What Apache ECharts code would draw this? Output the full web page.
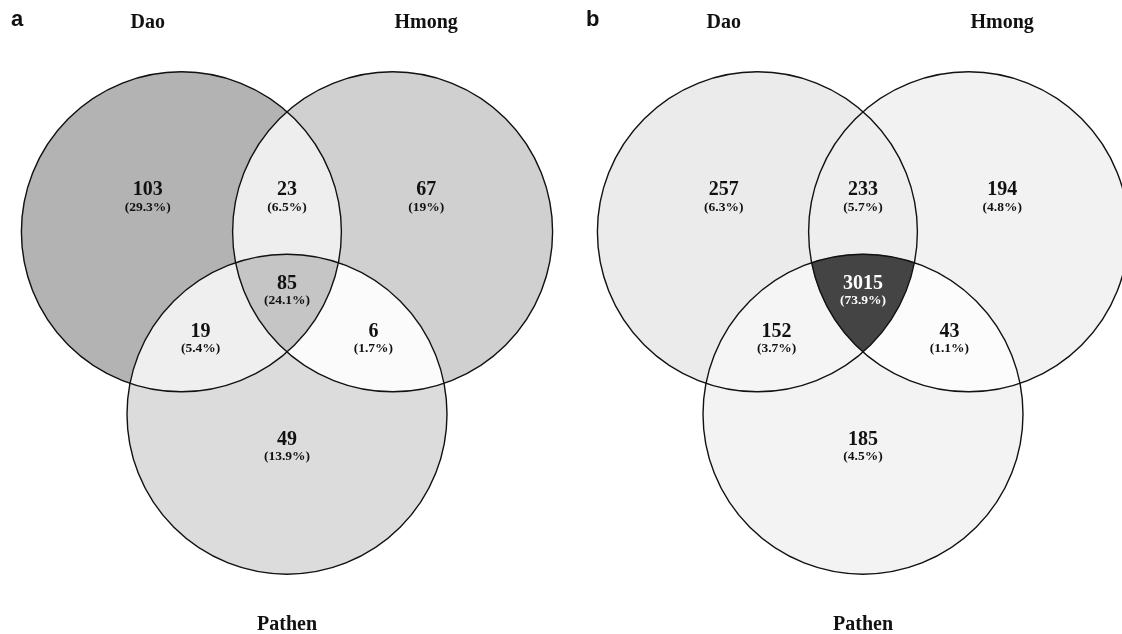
<!DOCTYPE html>
<html>
<head>
<meta charset="utf-8">
<script src="https://cdn.jsdelivr.net/npm/echarts@6/dist/echarts.min.js"></script>
<style>
  html, body { margin: 0; padding: 0; background: #fff; }
  #venn { width: 1122px; height: 634px; }
</style>
</head>
<body>
<div id="venn"></div>
<script>
// ---- data ----
const sets = ['Dao', 'Hmong', 'Pathen'];
const regionNames = ['Dao', 'Dao & Hmong', 'Hmong', 'Dao & Pathen', 'Dao & Hmong & Pathen', 'Hmong & Pathen', 'Pathen'];
// which sets each region belongs to (Dao, Hmong, Pathen)
const regionMembers = [[1, 0, 0], [1, 1, 0], [0, 1, 0], [1, 0, 1], [1, 1, 1], [0, 1, 1], [0, 0, 1]];
const countsA = [103, 23, 67, 19, 85, 6, 49];
const percentA = ['29.3%', '6.5%', '19%', '5.4%', '24.1%', '1.7%', '13.9%'];
const countsB = [257, 233, 194, 152, 3015, 43, 185];
const percentB = ['6.3%', '5.7%', '4.8%', '3.7%', '73.9%', '1.1%', '4.5%'];

// ---- layout, in units of circle radius ----
const circleCenters = [[-0.66, 0.57], [0.66, 0.57], [0, -0.57]];
const setLabelPos = [[-0.87, 1.875], [0.87, 1.875], [0, -1.885]];
const regionLabelPos = [[-0.87, 0.83], [0, 0.83], [0.87, 0.83], [-0.54, -0.056], [0, 0.244], [0.54, -0.056], [0, -0.731]];

// ---- styles ----
const fillsA = ['#b3b3b3', '#eeeeee', '#d0d0d0', '#efefef', '#c5c5c5', '#fbfbfb', '#dcdcdc'];
const fillsB = ['#ebebeb', '#eeeeee', '#f2f2f2', '#f5f5f5', '#444444', '#fcfcfc', '#f3f3f3'];
const textA = ['#111', '#111', '#111', '#111', '#111', '#111', '#111'];
const textB = ['#111', '#111', '#111', '#111', '#fff', '#111', '#111'];
const serif = '"Liberation Serif", "Times New Roman", serif';

function crossings(a, b) {
  const dx = b.x - a.x, dy = b.y - a.y, d = Math.hypot(dx, dy);
  const l = (a.r * a.r - b.r * b.r + d * d) / (2 * d);
  const h = Math.sqrt(Math.max(0, a.r * a.r - l * l));
  const mx = a.x + dx * l / d, my = a.y + dy * l / d;
  return [[mx + h * dy / d, my - h * dx / d], [mx - h * dy / d, my + h * dx / d]];
}

// walk the boundary of one region: along circle arcs, switching circle at crossings
function regionOutline(circles, member) {
  const steps = 720, step = 2 * Math.PI / steps;
  const at = (c, t) => [c.x + c.r * Math.cos(t), c.y + c.r * Math.sin(t)];
  const inside = (p, c) => (p[0] - c.x) ** 2 + (p[1] - c.y) ** 2 < c.r * c.r;
  const valid = (p, i) => circles.every((c, j) => j === i || inside(p, c) === !!member[j]);
  const dist2 = (p, q) => (p[0] - q[0]) ** 2 + (p[1] - q[1]) ** 2;

  let ci = -1, t = 0;
  for (let i = 0; i < circles.length && ci < 0; i++) {
    for (let k = 0; k < steps; k++) {
      const a = k * step;
      if (valid(at(circles[i], a - step), i) && valid(at(circles[i], a), i) && valid(at(circles[i], a + step), i)) {
        ci = i; t = a; break;
      }
    }
  }
  if (ci < 0) return [];
  const startC = ci, startT = t;
  const pts = [at(circles[ci], t)];
  for (let guard = 0; guard < 4000; guard++) {
    const dir = member[ci] ? 1 : -1;
    if (ci === startC && pts.length > 4) {
      let left = ((startT - t) * dir) % (2 * Math.PI);
      if (left < 0) left += 2 * Math.PI;
      if (left <= step) break;
    }
    const nt = t + dir * step;
    const np = at(circles[ci], nt);
    const bad = circles.findIndex((c, j) => j !== ci && inside(np, c) !== !!member[j]);
    if (bad < 0) { pts.push(np); t = nt; continue; }
    const cur = at(circles[ci], t);
    const cross = crossings(circles[ci], circles[bad]).sort((p, q) => dist2(p, cur) - dist2(q, cur))[0];
    pts.push(cross);
    ci = bad;
    t = Math.atan2(cross[1] - circles[ci].y, cross[0] - circles[ci].x);
  }
  return pts;
}

function circlesInPixels(api) {
  const r = api.size([1, 0])[0];
  return circleCenters.map(c => {
    const p = api.coord(c);
    return { x: p[0], y: p[1], r: r };
  });
}

function regionSeries(gridIndex, counts, percents, fills, textColors) {
  return {
    type: 'custom',
    xAxisIndex: gridIndex,
    yAxisIndex: gridIndex,
    silent: true,
    data: regionNames.map((name, k) => ({ name: name, value: [regionLabelPos[k][0], regionLabelPos[k][1], counts[k]] })),
    renderItem: function (params, api) {
      const k = params.dataIndex;
      const pts = regionOutline(circlesInPixels(api), regionMembers[k]);
      const lp = api.coord([api.value(0), api.value(1)]);
      return {
        type: 'group',
        children: [
          { type: 'polygon', shape: { points: pts }, style: { fill: fills[k], stroke: fills[k], lineWidth: 0.5 } },
          {
            type: 'text', z2: 10,
            style: {
              text: String(api.value(2)), x: lp[0], y: lp[1],
              align: 'center', verticalAlign: 'middle',
              font: 'bold 20px ' + serif, fill: textColors[k]
            }
          },
          {
            type: 'text', z2: 10,
            style: {
              text: '(' + percents[k] + ')', x: lp[0], y: lp[1] + 17,
              align: 'center', verticalAlign: 'middle',
              font: 'bold 13.5px ' + serif, fill: textColors[k]
            }
          }
        ]
      };
    }
  };
}

function outlineSeries(gridIndex) {
  return {
    type: 'custom',
    xAxisIndex: gridIndex,
    yAxisIndex: gridIndex,
    silent: true,
    data: sets.map((name, k) => ({ name: name, value: circleCenters[k] })),
    renderItem: function (params, api) {
      const k = params.dataIndex;
      const c = api.coord([api.value(0), api.value(1)]);
      const r = api.size([1, 0])[0];
      const lp = api.coord(setLabelPos[k]);
      return {
        type: 'group',
        children: [
          { type: 'circle', shape: { cx: c[0], cy: c[1], r: r }, style: { fill: 'none', stroke: '#111', lineWidth: 1.4 } },
          {
            type: 'text',
            style: {
              text: sets[k], x: lp[0], y: lp[1],
              align: 'center', verticalAlign: 'middle',
              font: 'bold 20px ' + serif, fill: '#111'
            }
          }
        ]
      };
    }
  };
}

const axisY = { type: 'value', min: -1.9, max: 2.0, show: false };

const chart = echarts.init(document.getElementById('venn'));
chart.setOption({
  backgroundColor: '#fff',
  animation: false,
  title: [
    { text: 'a', left: 11, top: 9, padding: 0, textStyle: { fontFamily: 'Liberation Sans', fontWeight: 'bold', fontSize: 22, color: '#111' } },
    { text: 'b', left: 586, top: 9, padding: 0, textStyle: { fontFamily: 'Liberation Sans', fontWeight: 'bold', fontSize: 22, color: '#111' } }
  ],
  grid: [
    { left: 7, top: 3, width: 560, height: 624 },
    { left: 583, top: 3, width: 539, height: 624 }
  ],
  xAxis: [
    { gridIndex: 0, type: 'value', min: -1.75, max: 1.75, show: false },
    { gridIndex: 1, type: 'value', min: -1.75, max: 1.61875, show: false }
  ],
  yAxis: [Object.assign({ gridIndex: 0 }, axisY), Object.assign({ gridIndex: 1 }, axisY)],
  series: [
    regionSeries(0, countsA, percentA, fillsA, textA),
    outlineSeries(0),
    regionSeries(1, countsB, percentB, fillsB, textB),
    outlineSeries(1)
  ]
});
</script>
</body>
</html>
